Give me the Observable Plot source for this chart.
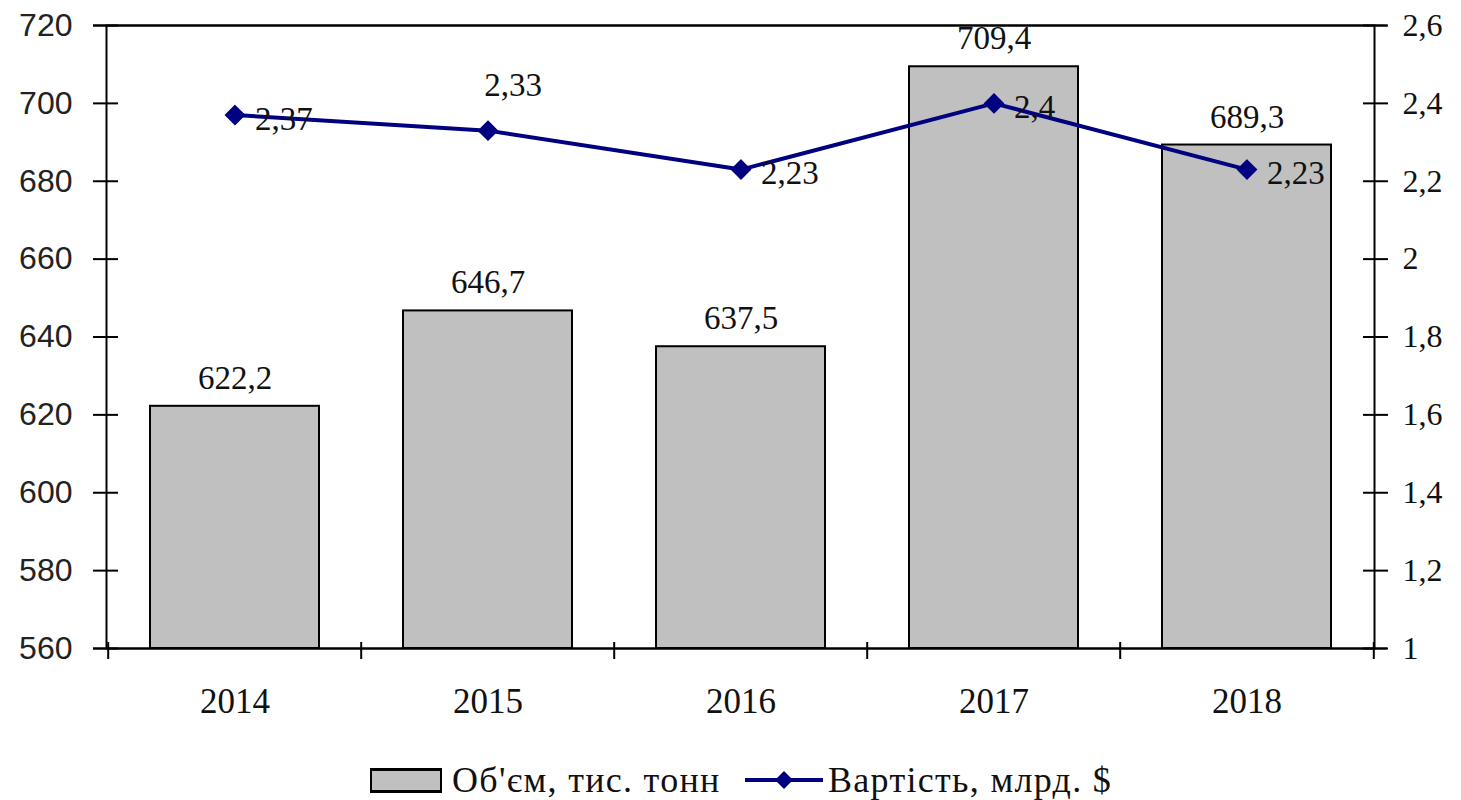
<!DOCTYPE html>
<html><head><meta charset="utf-8">
<script src="https://cdn.jsdelivr.net/npm/d3@7"></script>
<script src="https://cdn.jsdelivr.net/npm/@observablehq/plot@0.6"></script>
<style>
body{margin:0;background:#fff;}
#legend{position:relative;height:70px;width:1461px;font-family:"Liberation Serif",serif;font-size:36px;color:#111;letter-spacing:1.3px;}
.item{position:absolute;top:0;height:70px;display:flex;align-items:center;}
.sw{width:68px;height:19px;background:#c0c0c0;border:2px solid #000;border-top-width:3px;border-bottom-width:3px;}
</style></head><body>
<div id="chart"></div>
<div id="legend"></div>
<script>
const years = ["2014", "2015", "2016", "2017", "2018"];
const volume = [622.2, 646.7, 637.5, 709.4, 689.3];
const cost = [2.37, 2.33, 2.23, 2.4, 2.23];
const leftTicks = [560, 580, 600, 620, 640, 660, 680, 700, 720];
const rightTicks = [1, 1.2, 1.4, 1.6, 1.8, 2, 2.2, 2.4, 2.6];
const seriesNames = ["Об'єм, тис. тонн", "Вартість, млрд. $"];

const toLeft = v => 560 + (v - 1) * 100;
const fromLeft = d => Math.round(((d - 560) / 100 + 1) * 10) / 10;
const fmt = v => String(v).replace(".", ",");
const rows = years.map((y, i) => ({year: y, volume: volume[i], cost: cost[i], i}));

const W = 1461, H = 745, ML = 106, MR = 87, MT = 25, MB = 97;
const band = (W - ML - MR) / years.length;
const serif = "Liberation Serif";
const diamond = {draw(ctx, size) { const h = Math.sqrt(size / 2); ctx.moveTo(0, -h); ctx.lineTo(h, 0); ctx.lineTo(0, h); ctx.lineTo(-h, 0); ctx.closePath(); }};

const chart = Plot.plot({
  width: W, height: H, marginLeft: ML, marginRight: MR, marginTop: MT, marginBottom: MB,
  x: {domain: years, padding: 0},
  y: {domain: [560, 720]},
  marks: [
    Plot.barY(rows, {x: "year", y1: 560, y2: "volume", fill: "#c0c0c0", stroke: "#000", strokeWidth: 2, insetLeft: 42, insetRight: 42}),
    Plot.frame({stroke: "#000", strokeWidth: 2}),
    Plot.ruleY([560, 720], {stroke: "#000", strokeWidth: 2, insetLeft: -13, insetRight: -13}),
    Plot.axisY(leftTicks, {anchor: "left", tickSize: 25, dx: 12, fill: "none", stroke: "#000", strokeWidth: 2, label: null}),
    Plot.axisY(leftTicks, {anchor: "left", tickSize: 0, tickPadding: 34, fontSize: 32, fontFamily: "Liberation Sans", fill: "#222", label: null}),
    Plot.axisY(rightTicks.map(toLeft), {anchor: "right", tickSize: 25, dx: -12, fill: "none", stroke: "#000", strokeWidth: 2, label: null}),
    Plot.axisY(rightTicks.map(toLeft), {anchor: "right", tickSize: 0, tickPadding: 28, tickFormat: d => fmt(fromLeft(d)), fontSize: 32, fontFamily: serif, fill: "#111", label: null, style: {letterSpacing: "3px"}}),
    Plot.axisX({anchor: "bottom", tickSize: 17, dy: -6, dx: -band / 2, fill: "none", stroke: "#000", strokeWidth: 2, label: null}),
    Plot.axisX([years[years.length - 1]], {anchor: "bottom", tickSize: 17, dy: -6, dx: band / 2, fill: "none", stroke: "#000", strokeWidth: 2, label: null}),
    Plot.axisX({anchor: "bottom", tickSize: 0, tickPadding: 40, fontSize: 35, fontFamily: serif, fill: "#111", label: null}),
    Plot.line(rows, {x: "year", y: d => toLeft(d.cost), stroke: "#000080", strokeWidth: 4}),
    Plot.dot(rows, {x: "year", y: d => toLeft(d.cost), symbol: diamond, r: 7.5, fill: "#000080", stroke: "#000080"}),
    Plot.text(rows, {x: "year", y: "volume", text: d => fmt(d.volume), dy: -28, fontSize: 33, fontFamily: serif, fill: "#111", style: {letterSpacing: "2px"}}),
    Plot.text(rows.filter(d => d.i !== 1), {x: "year", y: d => toLeft(d.cost), text: d => fmt(d.cost), textAnchor: "start", dx: 20, dy: 4, fontSize: 33, fontFamily: serif, fill: "#111", style: {letterSpacing: "2px"}}),
    Plot.text(rows.filter(d => d.i === 1), {x: "year", y: d => toLeft(d.cost), text: d => fmt(d.cost), dx: 25, dy: -45, fontSize: 33, fontFamily: serif, fill: "#111", style: {letterSpacing: "2px"}})
  ]
});
document.getElementById("chart").append(chart);

const lg = document.getElementById("legend");
lg.innerHTML = `
<div class="item" style="left:370px"><div class="sw"></div><span style="margin-left:10px">${seriesNames[0]}</span></div>
<div class="item" style="left:745px"><svg width="78" height="24" viewBox="0 0 78 24"><line x1="0" y1="12" x2="78" y2="12" stroke="#000080" stroke-width="4"/><path d="M39,3 L48,12 L39,21 L30,12Z" fill="#000080"/></svg><span style="margin-left:5px">${seriesNames[1]}</span></div>`;
</script>
</body></html>
